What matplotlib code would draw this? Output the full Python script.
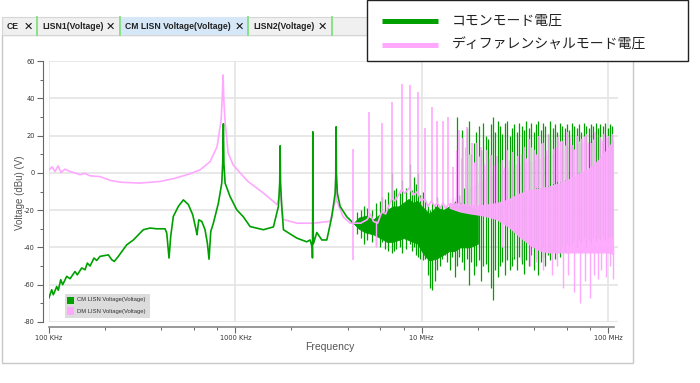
import matplotlib
matplotlib.use('Agg')
import matplotlib.pyplot as plt
from matplotlib.patches import Rectangle
from matplotlib.lines import Line2D
from matplotlib.ticker import NullFormatter
import numpy as np

# ---------------- data ----------------
# common-mode (CM) smooth trace, kHz / dBu
cm_khz = [100, 103.4, 105.5, 110, 112.2, 115.6, 118.4, 124.5, 129.7, 137.9, 141.9, 149.8, 156.1, 160.6,
          166, 174.4, 180.3, 187.8, 208.2, 217.1, 224.1, 235.5, 261.2, 283.5, 320.7, 348.5, 378.5, 419.4,
          428.3, 440.6, 449.9, 464.5, 494.3, 526, 559.5, 590.6, 615.2, 622.4, 636.4, 660.3, 687.4, 707.6,
          722.3, 737.9, 762, 810.5, 845.3, 855, 862.3, 868, 880.6, 936.6, 1017, 1104, 1199, 1413, 1600,
          1702, 1730, 1738, 1746, 1774, 1811, 2136, 2416, 2518, 2585, 2592, 2600, 2604, 2610, 2622, 2735,
          2910, 3095, 3290, 3430, 3465, 3472, 3480, 3528, 3648, 3963, 4299]
cm_db = [-67, -62.7, -65.4, -61, -63, -57.3, -60, -55.5, -56.8, -52.9, -54.7, -51, -52, -48.4,
         -50, -45.7, -47, -44.8, -44, -46.6, -47.5, -44.8, -38.6, -36, -30.5, -29.6, -30, -30,
         -32.3, -45.7, -34, -23.4, -18, -14.5, -17, -22.5, -30.5, -33.2, -25.2, -26, -30.5, -37.7,
         -46.3, -31.4, -27, -16.3, -5.5, 5, 26.3, 5, -5.5, -12.7, -19.8, -23.6, -28.8, -30.5, -29,
         -18, -5, 14.5, -5, -18, -30.5, -35, -37, -36, -40, -45.6, -20, 22, -20, -38, -32,
         -36, -36, -23.6, -11, 0, 24.7, 0, -11, -18, -23.6, -27]

# CM noise core, MHz / dBu
cm_band_mhz = [4.3, 4.6, 5.0, 5.5, 6.0, 6.5, 7.0, 7.5, 8.0, 8.5, 9.0, 9.5, 10.0, 10.5, 11.0, 12.0,
               13.0, 14.0, 15.0, 16.0, 18.0, 20.0]
cm_band_hi = [-27, -24, -23, -25, -22, -20, -18, -18, -16, -14, -16, -15, -18, -20, -22, -18,
              -20, -18, -16, -16, -18, -20]
cm_band_lo = [-27, -30, -32, -33, -35, -37, -37, -36, -35, -36, -37, -38, -42, -45, -47, -46,
              -44, -42, -42, -40, -40, -38]

# CM spikes, MHz / dBu
cm_spk_mhz = [4.9, 5.4, 6.13, 6.6, 6.93, 7.3, 7.85, 8.66, 9.1, 9.57,
              10.1, 10.4, 10.8, 11.1, 11.4, 11.8, 12.1, 12.5, 12.9, 13.3,
              13.7, 14.1, 14.5, 15.0, 15.5, 15.9, 16.4, 16.9, 17.4, 17.9,
              18.4, 19.0, 19.6, 20.2, 20.8, 21.4, 22.0, 22.7, 23.4, 24.1,
              24.8, 25.5, 26.3, 27.1, 27.9, 28.7, 29.6, 30.5, 31.4, 32.3,
              33.3, 34.3, 35.3, 36.4, 37.5, 38.6, 39.8, 41.0, 42.2, 43.5,
              44.8, 46.1, 47.5, 48.9, 50.4, 51.9, 53.5, 55.1, 56.7, 58.4,
              60.2, 62.0, 63.8, 65.7, 67.7, 69.7, 71.8, 74.0, 76.2, 78.5,
              80.8, 83.2, 85.7, 88.3, 90.9, 93.7, 96.5, 99.4, 102.4, 105.4]
cm_spk_lo = [-38, -37, -37, -42, -43, -41, -43, -38, -40, -45,
             -47, -46, -55, -62, -63, -58, -52, -50, -46, -44,
             -48, -52, -45, -56, -50, -45, -48, -52, -46, -60,
             -48, -55, -50, -47, -58, -50, -49, -53, -62, -68,
             -52, -56, -50, -48, -55, -47, -52, -50, -46, -52,
             -45, -49, -54, -47, -50, -44, -52, -46, -55, -48,
             -45, -50, -44, -47, -42, -46, -40, -45, -40, -42,
             -38, -40, -38, -36, -40, -36, -38, -35, -40, -36,
             -38, -35, -37, -35, -36, -34, -36, -35, -34, -35]
cm_spk_hi = [-18, -20, -12.7, -10, 0, -8, -4, 5, -2, 0,
             -10, -14, -18, -20, -16, -18, -13, -18, -16, -20,
             -19, -16, -20, -15, 30, -12, 23, -8, 24, 28,
             10, 16, 22, 25, 12, 27, 20, 18, 26, 30,
             22, 28, 25, 21, 27, 28, 20, 24, 26, 22,
             27, 25, 23, 28, 24, 27, 22, 26, 28, 23,
             27, 25, 21, 28, 24, 26, 22, 27, 25, 24,
             26, 23, 27, 25, 24, 26, 22, 27, 25, 24,
             26, 25, 27, 24, 26, 25, 27, 24, 26, 25]

# CM small noise spikes 4.5-10 MHz
cm_spk2_mhz = [4.5, 4.75, 5.1, 5.7, 5.95, 6.35, 7.1, 7.6, 8.2, 8.9, 9.35, 9.8]
cm_spk2_lo = [-33, -35, -36, -39, -40, -41, -42, -40, -41, -42, -44, -46]
cm_spk2_hi = [-21, -20, -19, -16, -15, -14, -9, -11, -8, -9, -6, -12]

# differential-mode (DM) smooth trace, kHz / dBu
dm_khz = [100, 103.8, 107.7, 111.8, 116, 121.9, 129.7, 137.9, 146.7, 156.1, 166, 187.8, 212.5, 240.5,
          307.8, 394.4, 474.5, 571, 646.5, 731.5, 797.5, 838, 850, 859, 868, 880, 914, 972, 1060, 1168,
          1408, 1674, 1730, 1738, 1746, 1803, 2143, 2612, 3223, 3440, 3470, 3500, 3785, 4130, 4285]
dm_db = [1.6, 3.2, 0.7, 3.7, 0.2, 2, 0.7, 0, -1, -0.3, -1.6, -2, -4, -5,
         -5.5, -4.6, -2.9, -0.5, 1.6, 6, 14, 28, 40, 52.5, 38, 28, 10.7, 4.3, 0, -4.6,
         -10.7, -17, -12, 10.7, -12, -25, -27, -27, -26, -15, 22, -15, -23.6, -27, -27]

# DM base between harmonics, MHz / dBu
dm_b_mhz = [4.3, 4.7, 5.1, 5.3, 5.5, 5.8, 6.1, 6.4, 6.9, 7.2, 7.8, 8.1, 8.6, 9.0, 9.5, 9.9,
            10.4, 10.8, 11.3, 11.7, 12.1, 12.6, 13.0, 13.4, 13.9, 14.5]
dm_b_db = [-27, -27, -25, -22, -26, -27, -21, -22, -14, -15, -9, -11, -8, -12, -10, -15,
           -14, -18, -15, -18, -16, -19, -16, -19, -17, -18]

# DM dense band, MHz / dBu
dm_band_mhz = [14, 16, 18, 21, 25, 29, 33, 38, 43, 48, 55, 62, 70, 80, 90, 100, 107]
dm_band_hi = [-16, -16, -17, -17, -16, -14, -11, -9, -8, -7, -5, -3, 0, 3, 8, 14, 18]
dm_band_lo = [-19, -21, -22, -23, -25, -29, -34, -39, -42, -43, -43, -43, -43, -43, -43, -43, -44]
dm_halo_hi = [-14, -12, -8, -4, 0, 3, 5, 6, 8, 10, 12, 14, 16, 17, 18, 19, 20]

# DM upward harmonic spikes
dm_up_mhz = [4.285, 5.22, 6.13, 6.93, 7.85, 8.66, 9.57, 10.43, 11.37, 12.1,
             13.03, 13.86, 14.75, 15.8, 16.6, 17.5, 18.5, 19.7, 20.9, 22.3,
             23.6, 25.4, 26.9, 28.6, 30.5, 33.0, 35.2, 37.4, 40.0, 42.5,
             45.0, 48.0, 51.0, 54.0, 57.0, 60.5, 64.0, 68.0, 72.0, 76.0,
             80.5, 85.0, 90.0, 95.0, 100.5, 105.5]
dm_up_hi = [13, 32.5, 26.6, 38, 47.7, 47, 43.4, 24, 35.4, 28,
            28, 30, 3, 23, 18.5, 24.6, 16, 16, 14, 12,
            9.7, 9, 7, 12, 11, 9, 14, 18, 12, 20,
            16, 21, 13, 19, 17, 22, 15, 20, 18, 21,
            16, 22, 19, 21, 20, 21]
dm_up_lo = [-47, -22, -21, -14, -9, -8, -10, -14, -15, -16,
            -16, -17, -18, -18, -18, -18, -18, -18, -18, -18,
            -18, -17, -17, -16, -15, -13, -12, -10, -9, -8,
            -8, -7, -6, -5, -5, -4, -3, -2, -1, 0,
            2, 4, 6, 9, 12, 15]

# DM shorter spikes between the harmonics
dm_up2_mhz = [15.3, 16.2, 17.0, 18.0, 19.1, 20.3, 21.6, 22.9, 24.4, 26.1,
              27.7, 29.5, 31.7, 34.0, 36.3, 38.7, 41.2, 43.8, 46.5, 49.5,
              52.5, 55.5, 58.7, 62.2, 66.0, 70.0, 74.0, 78.2, 82.7, 87.5,
              92.5, 97.7, 103.0]
dm_up2_hi = [12, 8, 14, 10, 6, 9, 5, 8, 4, 6,
             3, 7, 5, 10, 8, 14, 10, 16, 12, 18,
             14, 17, 15, 19, 13, 17, 20, 16, 18, 21,
             17, 19, 20]
dm_up2_lo = [-16, -16, -16, -17, -17, -17, -17, -17, -17, -16,
             -16, -15, -13, -11, -10, -9, -8, -8, -7, -6,
             -5, -5, -4, -3, -2, 0, 1, 3, 4, 6,
             8, 12, 15]

# DM downward spikes
dm_dn_mhz = [5.69, 27, 31, 34, 38, 41, 45, 50, 53, 57, 61, 66, 70.8, 75.5, 80.2, 84, 88, 92, 97, 102, 106]
dm_dn_lo = [-40, -40, -45, -47, -50, -48, -52, -55, -50, -62, -55, -64, -70, -58, -67, -55, -57, -52, -56, -50, -57]
dm_dn_hi = [-26, -25, -28, -32, -36, -38, -40, -40, -40, -40, -40, -40, -40, -40, -40, -40, -40, -40, -40, -40, -40]

x_ticks = [1e5, 1e6, 1e7, 1e8]
x_labels = ['100 KHz', '1000 KHz', '10 MHz', '100 MHz']
y_ticks = [-80, -60, -40, -20, 0, 20, 40, 60]

tab_labels = ['CE', 'LISN1(Voltage)', 'CM LISN Voltage(Voltage)', 'LISN2(Voltage)']
legend_jp = ['コモンモード電圧', 'ディファレンシャルモード電圧']
legend_small = ['CM LISN Voltage(Voltage)', 'DM LISN Voltage(Voltage)']

GREEN = '#00a000'
PINK = '#ffa8ff'

# ---------------- figure ----------------
W, H = 700, 383
fig = plt.figure(figsize=(7, 3.83), dpi=100)
fig.patch.set_facecolor('white')


def fx(x):
    return x / W


def fy(y):
    return 1 - y / H


def rect_px(x0, y0, x1, y1, **kw):
    r = Rectangle((fx(x0), fy(y1)), fx(x1) - fx(x0), fy(y0) - fy(y1),
                  transform=fig.transFigure, **kw)
    fig.add_artist(r)
    return r


def line_px(xs, ys, **kw):
    l = Line2D([fx(v) for v in xs], [fy(v) for v in ys], transform=fig.transFigure, **kw)
    fig.add_artist(l)
    return l


# outer panel
rect_px(2, 35, 633, 363, facecolor='white', edgecolor='#c8c8c8', lw=1.0, zorder=-5)
# tab bar
rect_px(2, 17, 633, 35, facecolor='#f0f0f0', edgecolor='#d6d6d6', lw=0.8, zorder=-4)
rect_px(121, 17.5, 248, 35, facecolor='#d6e8f8', edgecolor='none', zorder=-3)
for sx in [37, 120, 248, 332]:
    line_px([sx, sx], [17, 35], color='#80e080', lw=1.3, zorder=-2)
tab_x = [7, 42, 125, 253]
close_x = [28, 110, 239, 322]
for lbl, tx, cx in zip(tab_labels, tab_x, close_x):
    fig.text(fx(tx), fy(26.5), lbl, fontsize=6.2, fontweight='bold', color='#222',
             family='Liberation Sans', ha='left', va='center')
    fig.text(fx(cx), fy(26.3), '✕', fontsize=8, fontweight='bold', color='#111',
             family='DejaVu Sans', ha='center', va='center')

# axes
ax = fig.add_axes([49 / W, 61 / H, 569 / W, 261 / H])
ax.set_xscale('log')
ax.set_xlim(1e5, 1.13e8)
ax.set_ylim(-80, 60)

ax.plot(np.array(dm_khz) * 1e3, dm_db, color=PINK, lw=1.2, zorder=2)
ax.fill_between(np.array(dm_band_mhz) * 1e6, dm_band_hi, dm_halo_hi, color=PINK, alpha=0.25,
                lw=0, zorder=2.5)
ax.plot(np.array(cm_khz) * 1e3, cm_db, color=GREEN, lw=1.2, zorder=3)
ax.fill_between(np.array(cm_band_mhz) * 1e6, cm_band_lo, cm_band_hi, color=GREEN, lw=0.6,
                zorder=3)
ax.vlines(np.array(cm_spk2_mhz) * 1e6, cm_spk2_lo, cm_spk2_hi, color=GREEN, lw=0.9, zorder=3)
ax.vlines(np.array(cm_spk_mhz) * 1e6, cm_spk_lo, cm_spk_hi, color=GREEN, lw=0.9, zorder=3)
ax.plot(np.array(dm_b_mhz) * 1e6, dm_b_db, color=PINK, lw=1.2, zorder=4)
ax.fill_between(np.array(dm_band_mhz) * 1e6, dm_band_lo, dm_band_hi, color=PINK, alpha=0.95,
                lw=0, zorder=4)
ax.vlines(np.array(dm_dn_mhz) * 1e6, dm_dn_lo, dm_dn_hi, color=PINK, lw=1.0, zorder=4)
ax.vlines(np.array(dm_up2_mhz) * 1e6, dm_up2_lo, dm_up2_hi, color=PINK, lw=0.9, zorder=4.2)
ax.vlines(np.array(dm_up_mhz) * 1e6, dm_up_lo, dm_up_hi, color=PINK, lw=1.2, zorder=4.5)

ax.set_xticks(x_ticks, x_labels)
minor = [m * d for d in [1e5, 1e6, 1e7] for m in (2, 4, 6, 8)]
ax.set_xticks(minor, minor=True)
ax.xaxis.set_minor_formatter(NullFormatter())
ax.set_yticks(y_ticks, [str(v) for v in y_ticks])
ax.set_yticks(list(range(-70, 60, 20)), minor=True)
ax.yaxis.set_minor_formatter(NullFormatter())

for lab in ax.get_xticklabels() + ax.get_yticklabels():
    lab.set_family('Liberation Sans')
ax.tick_params(axis='both', which='major', length=4, width=0.8, color='#666',
               labelsize=4.8, labelcolor='#333', pad=1.8)
ax.tick_params(axis='both', which='minor', length=2.5, width=0.7, color='#666')

ax.grid(True, which='major', color='#e4e4e4', lw=1.2)
ax.set_axisbelow(True)
for s in ['top', 'right']:
    ax.spines[s].set_visible(False)
ax.spines['left'].set_position(('outward', 4.3))
ax.spines['left'].set_color('#666')
ax.spines['left'].set_linewidth(0.8)
ax.spines['bottom'].set_position(('outward', 3.6))
ax.spines['bottom'].set_bounds(1e5, 1.07e8)
ax.spines['bottom'].set_color('#888')
ax.spines['bottom'].set_linewidth(1.2)
ax.set_facecolor('white')

fig.text(fx(20), fy(193), 'Voltage (dBu) (V)', rotation=90, ha='center', va='center',
         fontsize=7, color='#555', family='Liberation Sans')
fig.text(fx(330), fy(347), 'Frequency', ha='center', va='center', fontsize=7.5,
         color='#555', family='Liberation Sans')

# small legend inside the plot
rect_px(65, 294, 150, 318, facecolor='#dcdcdc', edgecolor='none', zorder=10)
for i, (lbl, col) in enumerate(zip(legend_small, [GREEN, PINK])):
    yc = 300 + 11 * i
    rect_px(67, yc - 3.5, 74, yc + 3.5, facecolor=col, edgecolor='none', zorder=11)
    fig.text(fx(77), fy(yc), lbl, fontsize=4.2, color='#333', family='Liberation Sans',
             ha='left', va='center', zorder=11)

# big legend box (top right)
rect_px(367, 0.5, 688, 61, facecolor='white', edgecolor='#222', lw=1.0, zorder=10)
for i, (lbl, col) in enumerate(zip(legend_jp, [GREEN, PINK])):
    yc = 21 + 24 * i
    line_px([382, 438], [yc, yc], color=col, lw=3.6, zorder=11, solid_capstyle='butt')
    fig.text(fx(452), fy(yc), lbl, fontsize=10, color='#222',
             family=['Noto Sans CJK JP', 'DejaVu Sans'], ha='left', va='center', zorder=11)

fig.savefig('out.png', dpi=100, facecolor='white')
